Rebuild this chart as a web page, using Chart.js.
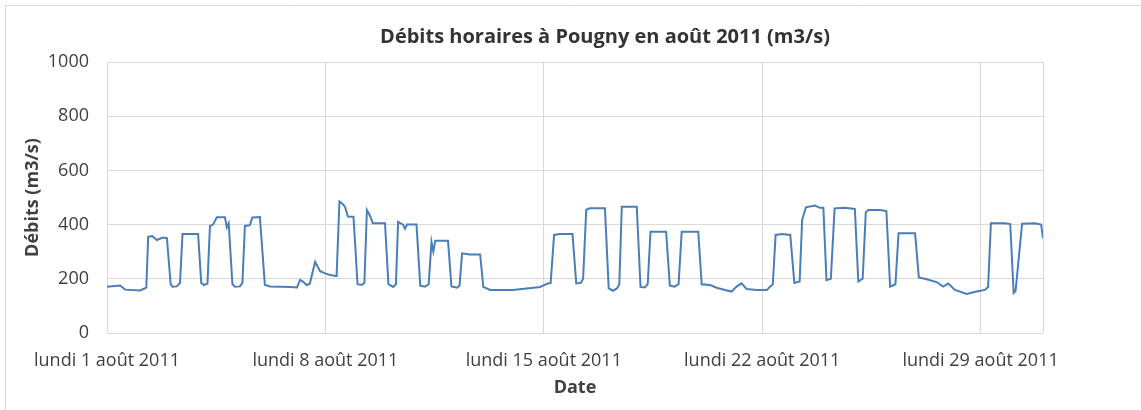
<!DOCTYPE html>
<html>
<head>
<meta charset="utf-8">
<script src="https://cdn.jsdelivr.net/npm/chart.js@4/dist/chart.umd.min.js"></script>
<style>
  html, body { margin: 0; padding: 0; background: #fff; }
  #wrap { width: 1141px; height: 410px; }
</style>
</head>
<body>
<div id="wrap"><canvas id="debitsChart" width="1141" height="410"></canvas></div>
<script>
// jours depuis le lundi 1 août 2011 00h
const jours = [
  0, 0.42, 0.58, 1.06, 1.22, 1.26, 1.32, 1.45, 1.60, 1.79, 1.92,
  2.04, 2.10, 2.24, 2.34, 2.42, 2.92, 3.02, 3.11, 3.22, 3.30, 3.40, 3.52, 3.78, 3.84, 3.90,
  4.02, 4.10, 4.26, 4.34, 4.42, 4.58, 4.66, 4.90, 5.06, 5.22, 5.87, 6.09, 6.19, 6.28, 6.40,
  6.50, 6.67, 6.83, 6.99, 7.15, 7.34, 7.36, 7.45, 7.56, 7.63, 7.72, 7.90, 8.03, 8.17, 8.25,
  8.33, 8.44, 8.52, 8.91, 9.02, 9.17, 9.26, 9.33, 9.49, 9.55, 9.62, 9.92, 10.04, 10.19,
  10.31, 10.40, 10.46, 10.52, 10.93, 11.04, 11.22, 11.30, 11.38, 11.63, 11.96, 12.06, 12.28,
  13.01, 13.88, 14.13, 14.22, 14.33, 14.52, 14.92, 15.04, 15.19, 15.26, 15.36, 15.48, 15.96,
  16.08, 16.22, 16.35, 16.42, 16.50, 16.98, 17.10, 17.24, 17.33, 17.42, 17.92, 18.04, 18.19,
  18.32, 18.42, 18.95, 19.06, 19.33, 19.54, 19.81, 20.02, 20.18, 20.34, 20.50, 20.83, 21.15,
  21.25, 21.34, 21.43, 21.63, 21.90, 22.03, 22.20, 22.28, 22.40, 22.69, 22.85, 22.96, 23.06,
  23.20, 23.32, 23.65, 23.97, 24.08, 24.22, 24.32, 24.40, 24.78, 24.98, 25.10, 25.27, 25.37,
  25.90, 26.02, 26.27, 26.59, 26.80, 26.96, 27.18, 27.55, 27.87, 28.14, 28.24, 28.33, 28.78,
  28.95, 29.06, 29.12, 29.33, 29.74, 29.94, 30.00
];

// débits horaires (m3/s)
const debits = [
  171, 175, 160, 157, 165, 168, 355, 358, 343, 352, 350,
  180, 171, 172, 185, 365, 365, 185, 177, 182, 395, 400, 427, 427, 390, 405,
  180, 171, 172, 185, 395, 398, 426, 428, 178, 172, 170, 168, 196, 190, 177,
  182, 263, 228, 220, 214, 210, 215, 485, 475, 465, 430, 429, 180, 177, 185,
  454, 430, 405, 405, 180, 170, 180, 410, 400, 385, 400, 400, 175, 171,
  180, 337, 300, 340, 340, 172, 167, 175, 294, 290, 290, 170, 159,
  159, 170, 183, 185, 362, 365, 365, 183, 185, 200, 455, 460, 460,
  165, 156, 165, 180, 466, 466, 170, 168, 180, 374, 374, 175, 171,
  180, 374, 374, 180, 177, 167, 159, 153, 171, 183, 162, 159, 159,
  171, 180, 362, 365, 362, 185, 190, 417, 464, 470, 462, 462, 195,
  200, 460, 462, 458, 190, 200, 445, 454, 454, 450, 171, 180, 368,
  368, 205, 198, 188, 171, 183, 159, 144, 153, 159, 170, 405, 405,
  402, 148, 155, 403, 405, 400, 350
];

const tickJours = [0, 7, 14, 21, 28];
const tickLabels = ['lundi 1 août 2011', 'lundi 8 août 2011', 'lundi 15 août 2011',
                    'lundi 22 août 2011', 'lundi 29 août 2011'];
const yTicks = [0, 200, 400, 600, 800, 1000];

const titre = 'Débits horaires à Pougny en août 2011 (m3/s)';

const cadre = {
  id: 'cadre',
  beforeDraw(chart) {
    const ctx = chart.ctx;
    ctx.save();
    ctx.fillStyle = '#fff';
    ctx.fillRect(0, 0, chart.width, chart.height);
    ctx.strokeStyle = '#d9d9d9';
    ctx.lineWidth = 1;
    ctx.beginPath();
    ctx.moveTo(5.5, chart.height);
    ctx.lineTo(5.5, 5.5);
    ctx.lineTo(chart.width, 5.5);
    ctx.stroke();
    ctx.restore();
  },
  afterDraw(chart) {
    const ctx = chart.ctx;
    ctx.save();
    ctx.font = 'bold 20px "Open Sans"';
    ctx.fillStyle = '#333';
    ctx.textAlign = 'center';
    ctx.textBaseline = 'middle';
    ctx.fillText(titre, 605, 37);
    ctx.restore();
  }
};

new Chart(document.getElementById('debitsChart'), {
  type: 'line',
  data: {
    datasets: [{
      label: 'Débits',
      data: jours.map((j, i) => ({ x: j, y: debits[i] })),
      borderColor: '#4a7ebb',
      borderWidth: 2,
      pointRadius: 0,
      tension: 0,
      fill: false
    }]
  },
  options: {
    responsive: false,
    animation: false,
    layout: { padding: { left: 0, top: 62, right: 98, bottom: 0 } },
    plugins: {
      legend: { display: false },
      tooltip: { enabled: false },
      title: { display: false }
    },
    scales: {
      x: {
        type: 'linear',
        min: 0,
        max: 30,
        afterBuildTicks: s => { s.ticks = tickJours.concat([30]).map(v => ({ value: v })); },
        afterFit: s => { s.height = 77; },
        grid: { color: '#d9d9d9', drawTicks: false },
        border: { display: false },
        ticks: {
          padding: 17,
          color: '#404040',
          font: { family: 'Open Sans', size: 18 },
          maxRotation: 0,
          autoSkip: false,
          callback: v => { const i = tickJours.indexOf(v); return i >= 0 ? tickLabels[i] : ''; }
        },
        title: {
          display: true,
          text: 'Date',
          color: '#404040',
          font: { family: 'Open Sans', size: 18, weight: 'bold' },
          padding: { bottom: 11 }
        }
      },
      y: {
        min: 0,
        max: 1000,
        afterBuildTicks: s => { s.ticks = yTicks.map(v => ({ value: v })); },
        afterFit: s => { s.width = 107; },
        grid: { color: '#d9d9d9', drawTicks: false },
        border: { display: false },
        ticks: {
          padding: 18,
          color: '#404040',
          font: { family: 'Open Sans', size: 18 },
          callback: v => String(v)
        },
        title: {
          display: true,
          text: 'Débits (m3/s)',
          color: '#404040',
          font: { family: 'Open Sans', size: 18, weight: 'bold' },
          padding: { top: 22 }
        }
      }
    }
  },
  plugins: [cadre]
});
</script>
</body>
</html>
